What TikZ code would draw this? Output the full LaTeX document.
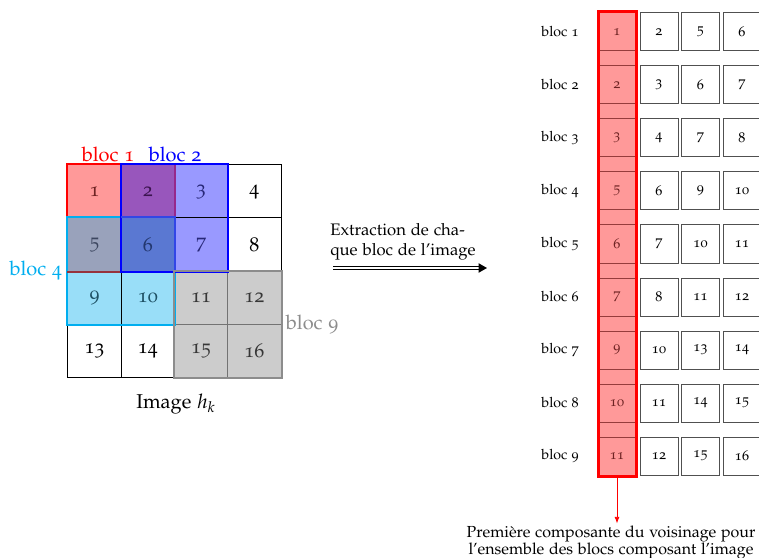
\documentclass[tikz,border=0pt]{standalone}
\usepackage[T1]{fontenc}
\usepackage[osf]{mathpazo}
\usetikzlibrary{arrows.meta}
\definecolor{c1}{RGB}{255,153,153}
\definecolor{t1}{RGB}{110,35,35}
\definecolor{c2}{RGB}{152,86,188}
\definecolor{t2}{RGB}{60,20,80}
\definecolor{c3}{RGB}{153,153,255}
\definecolor{t3}{RGB}{40,40,120}
\definecolor{c5}{RGB}{153,162,187}
\definecolor{t5}{RGB}{60,70,95}
\definecolor{c6}{RGB}{90,120,210}
\definecolor{t6}{RGB}{35,55,110}
\definecolor{c9}{RGB}{153,222,248}
\definecolor{t9}{RGB}{30,80,100}
\definecolor{cg}{RGB}{204,204,204}
\definecolor{tg}{RGB}{55,55,55}
\definecolor{cyanc}{RGB}{0,174,239}
\definecolor{grayc}{RGB}{140,140,140}
\definecolor{redline}{RGB}{150,50,60}
\definecolor{purpline}{RGB}{150,40,140}
\definecolor{bluish}{RGB}{50,70,230}
\definecolor{cellline}{RGB}{80,80,80}
\definecolor{redcellline}{RGB}{150,60,60}
\begin{document}
\begin{tikzpicture}[x=0.6pt,y=-0.6pt,
  lbig/.style={font=\fontsize{12}{14}\selectfont},
  lmid/.style={font=\fontsize{10}{12}\selectfont},
  lsmall/.style={font=\fontsize{8.5}{10}\selectfont},
  gcell/.style={draw=black, line width=0.6pt, minimum width=31.95pt, minimum height=31.8pt, inner sep=0pt, lbig},
  gcellg/.style={gcell, draw=black!55, fill=cg, text=tg},
  bord/.style={line width=1.2pt},
  redcell/.style={draw=redcellline, line width=0.6pt, fill=c1, text=t1, minimum width=22.8pt, minimum height=22.8pt, inner sep=0pt, lsmall},
  wcell/.style={draw=cellline, line width=0.6pt, fill=white, minimum width=22.8pt, minimum height=22.8pt, inner sep=0pt, lsmall}]
\useasboundingbox (0,0) rectangle (759,558);

% ---- left image grid
\node[gcell, fill=c1, text=t1] (g1) at (94.6,191.5) {1};
\node[gcell, fill=c2, text=t2] (g2) at (147.9,191.5) {2};
\node[gcell, fill=c3, text=t3] (g3) at (201.1,191.5) {3};
\node[gcell] (g4) at (254.4,191.5) {4};
\node[gcell, fill=c5, text=t5] (g5) at (94.6,244.5) {5};
\node[gcell, fill=c6, text=t6] (g6) at (147.9,244.5) {6};
\node[gcell, fill=c3, text=t3] (g7) at (201.1,244.5) {7};
\node[gcell] (g8) at (254.4,244.5) {8};
\node[gcell, fill=c9, text=t9] (g9) at (94.6,297.5) {9};
\node[gcell, fill=c9, text=t9] (g10) at (147.9,297.5) {10};
\node[gcellg] (g11) at (201.1,297.5) {11};
\node[gcellg] (g12) at (254.4,297.5) {12};
\node[gcell] (g13) at (94.6,350.5) {13};
\node[gcell] (g14) at (147.9,350.5) {14};
\node[gcellg] (g15) at (201.1,350.5) {15};
\node[gcellg] (g16) at (254.4,350.5) {16};

% bloc borders
\draw[bord, red] (g1.north west) rectangle (g6.south east);
\draw[bord, cyanc] (g5.north west) rectangle (g10.south east);
\draw[bord, redline] (g5.south west) -- (g5.south east);
\draw[bord, purpline] (g2.north east) -- (g2.south east);
\draw[bord, blue] (g2.north west) rectangle (g7.south east);
\draw[bord, bluish] (g6.north west) -- (g6.north east) -- (g6.south east);
\draw[bord, grayc] (g11.north west) rectangle (g16.south east);

\node[lbig, text=red] (l1) at (108,154) {bloc 1};
\node[lbig, text=blue] (l2) at (175,154) {bloc 2};
\node[lbig, text=cyanc, anchor=east] (l4) at (68,271) {bloc 4};
\node[lbig, text=grayc, anchor=west] (l9) at (280,325) {bloc 9};
\node[lbig] (img) at (176,404) {Image $h_k$};

% ---- middle arrow
\node[lmid, anchor=south west, align=left, inner sep=0pt] (ext) at (330,261) {Extraction de cha-\\que bloc de l'image};
\coordinate (m1) at (333,268);
\coordinate (m2) at (487,268);
\draw[double, double distance=1.1pt, line width=0.75pt, -{Triangle[length=5pt,width=5.5pt]}] (m1) -- (m2);

% ---- right column
\coordinate (colNW) at (598,12);
\coordinate (colSE) at (636,476);
\fill[c1] (colNW) rectangle (colSE);
\foreach \i/\y/\a/\b/\c/\d in {1/32/1/2/5/6, 2/85/2/3/6/7, 3/138/3/4/7/8, 4/191/5/6/9/10, 5/244/6/7/10/11, 6/297/7/8/11/12, 7/350/9/10/13/14, 8/403/10/11/14/15, 9/456/11/12/15/16}{
  \node[lsmall] (b\i) at (560,\y) {bloc \i};
  \node[redcell] (r\i) at (617,\y) {\a};
  \node[wcell] (wa\i) at (659,\y) {\b};
  \node[wcell] (wb\i) at (700.5,\y) {\c};
  \node[wcell] (wc\i) at (742,\y) {\d};
}
\draw[red, line width=1.8pt] (colNW) rectangle (colSE);

\coordinate (abeg) at (617,477);
\node[font=\fontsize{9.6}{10}\selectfont, anchor=north, align=center, inner sep=0pt] (cap) at (611,526) {Premi\`ere composante du voisinage pour\\l'ensemble des blocs composant l'image};
\draw[red, line width=0.5pt, -{Latex[length=4pt,width=3pt]}] (abeg) -- ([yshift=1.5pt]abeg |- cap.north);
\end{tikzpicture}
\end{document}
